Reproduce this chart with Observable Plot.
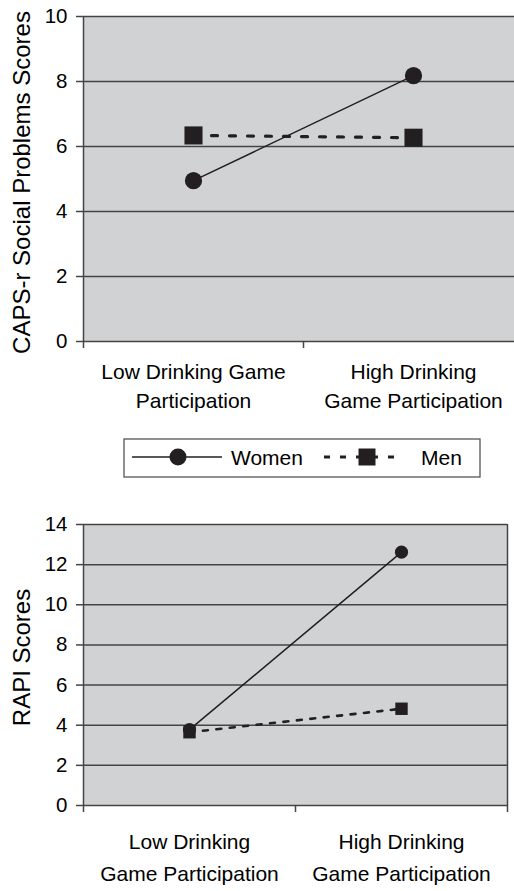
<!DOCTYPE html>
<html><head><meta charset="utf-8">
<script src="https://cdn.jsdelivr.net/npm/d3@7"></script>
<script src="https://cdn.jsdelivr.net/npm/@observablehq/plot@0.6"></script>
<style>
body{margin:0;background:#fff;width:514px;height:891px;position:relative;overflow:hidden;font-family:"Liberation Sans",Arial,sans-serif;}
#top,#bottom,#legend{position:absolute;left:0;}
#top{top:0px} #legend{top:432px} #bottom{top:500px}
svg{display:block}
</style></head><body>
<div id="top"></div><div id="legend"></div><div id="bottom"></div>
<script>
// ---- data ----
const groups = ["Women", "Men"];
const topLabels = ["Low Drinking Game\nParticipation", "High Drinking\nGame Participation"];
const bottomLabels = ["Low Drinking\nGame Participation", "High Drinking\nGame Participation"];
const capsWomen = [4.95, 8.18];
const capsMen = [6.34, 6.27];
const rapiWomen = [3.78, 12.62];
const rapiMen = [3.65, 4.82];
const capsTicks = [0, 2, 4, 6, 8, 10];
const rapiTicks = [0, 2, 4, 6, 8, 10, 12, 14];
const capsTitle = "CAPS-r Social Problems Scores";
const rapiTitle = "RAPI Scores";

const INK = "#231f20";
const GRID = "#444";
const FONT = "'Liberation Sans', Arial, Helvetica, sans-serif";

function makeChart(o) {
  const n = o.labels.length;
  const rows = o.labels.map((l, i) => ({pos: i + 0.5, women: o.women[i], men: o.men[i]}));
  return Plot.plot({
    width: 514,
    height: o.height,
    marginTop: o.marginTop,
    marginBottom: o.marginBottom,
    marginLeft: 83,
    marginRight: o.marginRight,
    x: {type: "linear", domain: [0, n], range: o.xRange, axis: null},
    y: {domain: [0, o.ticks[o.ticks.length - 1]], axis: null},
    style: {fontFamily: FONT, fontSize: "19px", color: "#000", background: "transparent"},
    marks: [
      Plot.frame({fill: "#d1d2d4", stroke: null}),
      Plot.gridY(o.ticks, {stroke: GRID, strokeOpacity: 1, strokeWidth: 1.5}),
      Plot.ruleX([0, n], {stroke: GRID, strokeWidth: 1.5}),
      Plot.axisX(d3.range(n + 1), {tickSize: 7, tickFormat: () => "", stroke: GRID, strokeWidth: 1.5, label: null}),
      Plot.axisY(o.ticks, {tickSize: 7, tickFormat: () => "", stroke: GRID, strokeWidth: 1.5, label: null}),
      Plot.text(o.ticks, {y: (d) => d, text: (d) => String(d), frameAnchor: "left", textAnchor: "end", dx: -16, fontSize: 20.5, fill: "#000"}),
      Plot.line(rows, {x: "pos", y: "men", stroke: INK, strokeWidth: o.menWidth, strokeDasharray: o.dash}),
      Plot.line(rows, {x: "pos", y: "women", stroke: INK, strokeWidth: 1.5}),
      Plot.dot(rows, {x: "pos", y: "men", symbol: "square", r: o.sq, fill: INK, stroke: null}),
      Plot.dot(rows, {x: "pos", y: "women", r: o.r, fill: INK, stroke: null}),
      Plot.text(o.labels, {x: (d, i) => i + 0.5, frameAnchor: "bottom", lineAnchor: "top", dy: o.labelDy, lineHeight: o.lineHeight, fontSize: 21, fill: "#000"}),
      Plot.text([o.title], {frameAnchor: "left", rotate: -90, dx: -54, dy: o.titleDy, textAnchor: "middle", lineAnchor: "bottom", fontSize: 24, fill: "#000"})
    ]
  });
}

document.getElementById("top").append(makeChart({
  labels: topLabels, women: capsWomen, men: capsMen, ticks: capsTicks, title: capsTitle,
  height: 425, marginTop: 16, marginBottom: 84, marginRight: 0, xRange: [83, 523],
  r: 8.6, sq: 10.2, menWidth: 3.2, dash: "6,12", labelDy: 16.5, lineHeight: 1.405, titleDy: 3.5
}));

document.getElementById("bottom").append(makeChart({
  labels: bottomLabels, women: rapiWomen, men: rapiMen, ticks: rapiTicks, title: rapiTitle,
  height: 391, marginTop: 24, marginBottom: 86, marginRight: 7, xRange: [83, 507],
  r: 6.6, sq: 7, menWidth: 2.6, dash: "5,8.5", labelDy: 20, lineHeight: 1.557, titleDy: -7.5
}));

// ---- legend ----
const lg = d3.select("#legend").append("svg").attr("width", 514).attr("height", 52);
lg.append("rect").attr("x", 124).attr("y", 7).attr("width", 356).attr("height", 38)
  .attr("fill", "#fff").attr("stroke", "#555").attr("stroke-width", 1.3);
lg.append("line").attr("x1", 132).attr("x2", 222).attr("y1", 25).attr("y2", 25)
  .attr("stroke", INK).attr("stroke-width", 1.5);
lg.append("circle").attr("cx", 178).attr("cy", 25).attr("r", 8.5).attr("fill", INK);
lg.append("text").attr("x", 231).attr("y", 32.5).attr("font-family", FONT).attr("font-size", 21).text(groups[0]);
lg.append("line").attr("x1", 324).attr("x2", 402).attr("y1", 25).attr("y2", 25)
  .attr("stroke", INK).attr("stroke-width", 3).attr("stroke-dasharray", "6,10");
lg.append("rect").attr("x", 358.5).attr("y", 16.5).attr("width", 17).attr("height", 17).attr("fill", INK);
lg.append("text").attr("x", 421).attr("y", 32.5).attr("font-family", FONT).attr("font-size", 21).text(groups[1]);
</script>
</body></html>
